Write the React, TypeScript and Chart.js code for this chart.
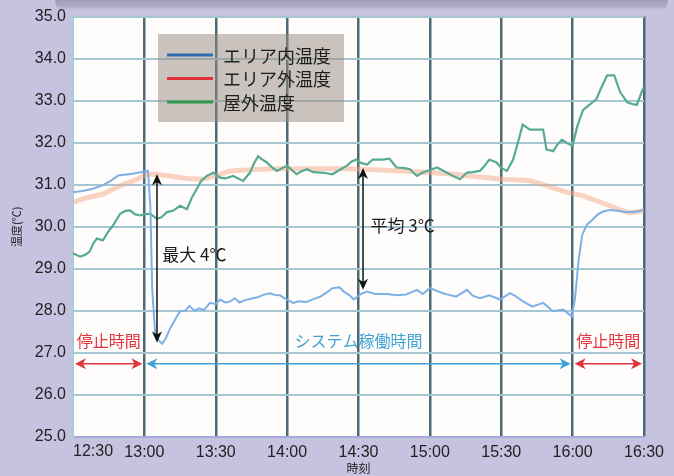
import React, { useEffect, useRef } from "react";
import { Chart, registerables } from "chart.js";

Chart.register(...registerables);

// ---------- data ----------
const timeLabels = ["12:30", "13:00", "13:30", "14:00", "14:30", "15:00", "15:30", "16:00", "16:30"];
const seriesNames = ["エリア内温度", "エリア外温度", "屋外温度"];
const legendColors = ["#2b6cb3", "#e1343a", "#2f9a50"];
const yMin = 25;
const yMax = 35;

// minutes after 12:30
const innerMinutes = [0, 4, 8, 12.6, 16, 19, 25, 29.5, 31.5, 32.5, 33.3, 34.5, 36, 37.5, 39, 41, 43, 45, 47, 49, 51, 53, 55, 57.6, 60, 61.8, 64, 66, 68, 70, 72, 75.7, 78, 80, 82.8, 85, 87, 89, 92.5, 95, 98, 101, 104, 107, 109, 112, 114, 116, 118, 121, 123.6, 127, 132, 136, 140, 144.6, 147, 150, 155.5, 158, 161, 165.6, 168, 171, 175, 179.5, 183.7, 186, 189, 193, 197.6, 201.8, 206, 209.7, 211, 212.5, 214, 216, 218, 220.7, 223, 225.7, 229, 232, 236, 240];
const innerTemps = [30.82, 30.85, 30.9, 30.99, 31.1, 31.22, 31.26, 31.31, 31.33, 30.5, 28.5, 27.5, 27.3, 27.22, 27.35, 27.6, 27.8, 27.99, 28.0, 28.12, 28.0, 28.06, 28.02, 28.19, 28.16, 28.27, 28.2, 28.22, 28.3, 28.2, 28.25, 28.3, 28.33, 28.38, 28.42, 28.38, 28.37, 28.3, 28.19, 28.23, 28.21, 28.28, 28.34, 28.45, 28.54, 28.56, 28.45, 28.38, 28.27, 28.4, 28.46, 28.4, 28.4, 28.37, 28.39, 28.5, 28.4, 28.54, 28.42, 28.38, 28.34, 28.5, 28.36, 28.3, 28.37, 28.27, 28.42, 28.35, 28.23, 28.1, 28.19, 27.99, 28.03, 27.87, 28.3, 29.2, 29.8, 30.05, 30.15, 30.3, 30.37, 30.4, 30.38, 30.35, 30.35, 30.4];

const outerMinutes = [0, 5, 12.6, 20, 27, 31, 35, 40.8, 48, 54.6, 60, 66, 75, 85, 100, 115, 125, 140, 150, 160, 170, 180.7, 192, 198, 203, 208, 214, 220, 225.7, 230, 234, 240];
const outerTemps = [30.58, 30.68, 30.78, 30.98, 31.13, 31.25, 31.25, 31.21, 31.15, 31.13, 31.22, 31.33, 31.36, 31.38, 31.38, 31.38, 31.36, 31.32, 31.29, 31.25, 31.19, 31.13, 31.1, 31.0, 30.9, 30.82, 30.74, 30.62, 30.5, 30.4, 30.33, 30.38];

const outdoorMinutes = [0, 3, 5, 7, 8.5, 10, 12.6, 15, 16.8, 19.8, 22, 24, 26, 28, 30, 32.4, 35.3, 37, 39.5, 42, 45, 47.9, 50, 52, 54, 56.3, 59, 61.8, 64, 67.3, 71.5, 74.4, 76, 77.8, 79, 81.5, 83.5, 85.7, 88, 90, 92, 94, 96, 98.4, 101, 104, 106, 109, 112, 115, 117, 119, 121, 123.6, 126, 130, 133, 136, 139, 141.6, 144.6, 147, 150, 153, 157, 160, 162.7, 165.6, 168, 171, 173, 175, 178, 180, 182.4, 185, 187, 189, 192, 197.6, 199, 201.8, 203.5, 205.5, 208, 210, 212, 214.4, 217, 220, 222, 224.5, 227.5, 230, 233, 235, 237, 239, 240];
const outdoorTemps = [29.37, 29.29, 29.33, 29.41, 29.6, 29.72, 29.68, 29.9, 30.03, 30.31, 30.38, 30.39, 30.3, 30.27, 30.3, 30.31, 30.19, 30.22, 30.35, 30.38, 30.5, 30.42, 30.7, 30.9, 31.1, 31.21, 31.29, 31.17, 31.15, 31.21, 31.09, 31.29, 31.5, 31.68, 31.62, 31.53, 31.42, 31.33, 31.4, 31.45, 31.35, 31.25, 31.32, 31.37, 31.3, 31.29, 31.28, 31.25, 31.35, 31.45, 31.55, 31.6, 31.52, 31.48, 31.6, 31.6, 31.62, 31.41, 31.4, 31.37, 31.21, 31.29, 31.35, 31.41, 31.29, 31.2, 31.13, 31.29, 31.3, 31.33, 31.45, 31.6, 31.53, 31.4, 31.33, 31.6, 32.0, 32.43, 32.31, 32.31, 31.84, 31.8, 31.95, 32.07, 31.98, 31.93, 32.4, 32.78, 32.9, 33.04, 33.3, 33.6, 33.6, 33.2, 32.96, 32.92, 32.9, 33.2, 33.33];

// annotations (values in data units)
const maxDiff = { minute: 35.3, top: 31.25, bottom: 27.25, label: "最大 4℃", labelMinute: 37.5, labelTemp: 29.33 };
const avgDiff = { minute: 121.9, top: 31.4, bottom: 28.5, label: "平均 3℃", labelMinute: 125, labelTemp: 30.02 };
const periodFrom = [0, 30, 210];
const periodTo = [30, 210, 240];
const periodLabels = ["停止時間", "システム稼働時間", "停止時間"];
const periodColors = ["#e2343c", "#3ea2d6", "#e2343c"];
const periodArrowTemp = 26.74;
const periodLabelTemp = 27.28;

const cjk = "'Noto Sans CJK JP', 'Noto Sans', sans-serif";
const latin = "'Liberation Sans', Arial, sans-serif";

function arrowHead(ctx: CanvasRenderingContext2D, tx: number, ty: number, ux: number, uy: number, len: number, half: number) {
  const bx = tx - ux * len;
  const by = ty - uy * len;
  const px = -uy;
  const py = ux;
  ctx.beginPath();
  ctx.moveTo(tx, ty);
  ctx.lineTo(bx + px * half, by + py * half);
  ctx.lineTo(tx - ux * len * 0.72, ty - uy * len * 0.72);
  ctx.lineTo(bx - px * half, by - py * half);
  ctx.closePath();
  ctx.fill();
}

function doubleArrow(ctx: CanvasRenderingContext2D, x1: number, y1: number, x2: number, y2: number, color: string, width: number, len: number, half: number) {
  const d = Math.hypot(x2 - x1, y2 - y1);
  const ux = (x2 - x1) / d;
  const uy = (y2 - y1) / d;
  ctx.save();
  ctx.strokeStyle = color;
  ctx.fillStyle = color;
  ctx.lineWidth = width;
  ctx.beginPath();
  ctx.moveTo(x1 + ux * len * 0.6, y1 + uy * len * 0.6);
  ctx.lineTo(x2 - ux * len * 0.6, y2 - uy * len * 0.6);
  ctx.stroke();
  arrowHead(ctx, x2, y2, ux, uy, len, half);
  arrowHead(ctx, x1, y1, -ux, -uy, len, half);
  ctx.restore();
}

const backgroundPlugin = {
  id: "bg",
  beforeDraw(chart: any) {
    const { ctx, chartArea, width, height } = chart;
    ctx.save();
    ctx.fillStyle = "#c6c3e0";
    ctx.fillRect(0, 0, width, height);
    // top shadow band
    const g = ctx.createLinearGradient(0, 0, 0, 12);
    g.addColorStop(0, "#9f9cb7");
    g.addColorStop(0.55, "#aeabc8");
    g.addColorStop(1, "rgba(198,195,224,0)");
    ctx.fillStyle = g;
    ctx.beginPath();
    ctx.moveTo(55, 0);
    ctx.lineTo(668, 0);
    ctx.quadraticCurveTo(668, 10, 658, 12);
    ctx.lineTo(65, 12);
    ctx.quadraticCurveTo(55, 10, 55, 0);
    ctx.fill();
    ctx.fillStyle = "#fffdfb";
    ctx.fillRect(chartArea.left, chartArea.top, chartArea.right - chartArea.left, chartArea.bottom - chartArea.top);
    ctx.restore();
  },
};

const overlayPlugin = {
  id: "overlay",
  afterDraw(chart: any) {
    const { ctx, chartArea } = chart;
    const xs = chart.scales.x;
    const ys = chart.scales.y;
    ctx.save();

    // first x tick label, left aligned at the plot edge
    ctx.fillStyle = "#222";
    ctx.font = `16px ${latin}`;
    ctx.textAlign = "left";
    ctx.textBaseline = "middle";
    ctx.fillText(timeLabels[0], chartArea.left, chartArea.bottom + 15);

    // legend
    const lx = 158, ly = 34, lw = 186, lh = 88;
    ctx.fillStyle = "rgba(150,135,125,0.5)";
    ctx.fillRect(lx, ly, lw, lh);
    seriesNames.forEach((name, i) => {
      const cy = ly + 21 + i * 23.5;
      ctx.strokeStyle = legendColors[i];
      ctx.lineWidth = 3;
      ctx.beginPath();
      ctx.moveTo(lx + 9, cy);
      ctx.lineTo(lx + 55, cy);
      ctx.stroke();
      ctx.fillStyle = "#1e1e1e";
      ctx.font = `18px ${cjk}`;
      ctx.textAlign = "left";
      ctx.textBaseline = "middle";
      ctx.fillText(name, lx + 65, cy + 1);
    });

    // difference arrows
    [maxDiff, avgDiff].forEach((a) => {
      const x = xs.getPixelForValue(a.minute);
      doubleArrow(ctx, x, ys.getPixelForValue(a.top), x, ys.getPixelForValue(a.bottom), "#111", 1.5, 11, 5);
      ctx.fillStyle = "#1a1a1a";
      ctx.font = `17px ${cjk}`;
      ctx.textAlign = "left";
      ctx.textBaseline = "middle";
      ctx.fillText(a.label, xs.getPixelForValue(a.labelMinute), ys.getPixelForValue(a.labelTemp));
    });

    // period arrows
    const ay = ys.getPixelForValue(periodArrowTemp);
    const ty = ys.getPixelForValue(periodLabelTemp);
    periodFrom.forEach((f, i) => {
      const x1 = xs.getPixelForValue(f) + 2;
      const x2 = xs.getPixelForValue(periodTo[i]) - 2;
      doubleArrow(ctx, x1, ay, x2, ay, periodColors[i], 1.5, 11, 5.5);
      ctx.fillStyle = periodColors[i];
      ctx.font = `16px ${cjk}`;
      ctx.textAlign = "center";
      ctx.textBaseline = "middle";
      ctx.fillText(periodLabels[i], (x1 + x2) / 2, ty);
    });

    ctx.restore();
  },
};

function toPoints(xsArr: number[], ysArr: number[]) {
  return xsArr.map((m, i) => ({ x: m, y: ysArr[i] }));
}

export default function App() {
  const ref = useRef<HTMLCanvasElement>(null);
  useEffect(() => {
    const chart = new Chart(ref.current as HTMLCanvasElement, {
      type: "line",
      data: {
        datasets: [
          {
            label: seriesNames[0],
            data: toPoints(innerMinutes, innerTemps),
            borderColor: "#7db0e6",
            borderWidth: 2,
            pointRadius: 0,
            order: 1,
          },
          {
            label: seriesNames[1],
            data: toPoints(outerMinutes, outerTemps),
            borderColor: "rgba(244,168,138,0.5)",
            borderWidth: 5,
            pointRadius: 0,
            order: 3,
          },
          {
            label: seriesNames[2],
            data: toPoints(outdoorMinutes, outdoorTemps),
            borderColor: "#56ab91",
            borderWidth: 2.2,
            pointRadius: 0,
            order: 2,
          },
        ],
      },
      options: {
        animation: false,
        responsive: false,
        devicePixelRatio: 1,
        layout: { padding: { left: 0, top: 12, right: 30, bottom: 0 } },
        plugins: { legend: { display: false }, tooltip: { enabled: false } },
        scales: {
          x: {
            type: "linear",
            min: 0,
            max: 240,
            afterBuildTicks: (scale: any) => {
              scale.ticks = timeLabels.map((_, i) => ({ value: i * 30 }));
            },
            afterFit: (scale: any) => {
              scale.height = 39;
            },
            ticks: {
              callback: (v: any) => timeLabels[Math.round(Number(v) / 30)] ?? "",
              color: (c: any) => (c.index === 0 ? "rgba(0,0,0,0)" : "#222"),
              font: { family: latin, size: 16 },
              padding: 6,
              maxRotation: 0,
              autoSkip: false,
            },
            grid: {
              color: (c: any) => (c.tick && c.tick.value === 0 ? "rgba(0,0,0,0)" : "#4d6b77"),
              lineWidth: 2.5,
              drawTicks: false,
            },
            border: { color: "#a3abd6", width: 2 },
            title: {
              display: true,
              text: "時刻",
              color: "#222",
              font: { family: cjk, size: 12 },
              padding: { top: 0, bottom: 0 },
            },
          },
          y: {
            min: yMin,
            max: yMax,
            afterFit: (scale: any) => {
              scale.width = 73;
            },
            ticks: {
              stepSize: 1,
              callback: (v: any) => Number(v).toFixed(1),
              color: "#222",
              font: { family: latin, size: 16 },
              padding: 7,
            },
            grid: { color: "#a7c6d1", lineWidth: 2, drawTicks: false },
            border: { color: "#a9ccd8", width: 2 },
            title: {
              display: true,
              text: "温度(℃)",
              color: "#222",
              font: { family: cjk, size: 11 },
              padding: { top: 10, bottom: 0 },
            },
          },
        },
      },
      plugins: [backgroundPlugin, overlayPlugin],
    } as any);
    return () => chart.destroy();
  }, []);
  return (
    <div style={{ position: "fixed", left: 0, top: 0, width: 674, height: 476, background: "#c6c3e0" }}>
      <canvas ref={ref} width={674} height={476} style={{ display: "block", width: 674, height: 476 }} />
    </div>
  );
}
